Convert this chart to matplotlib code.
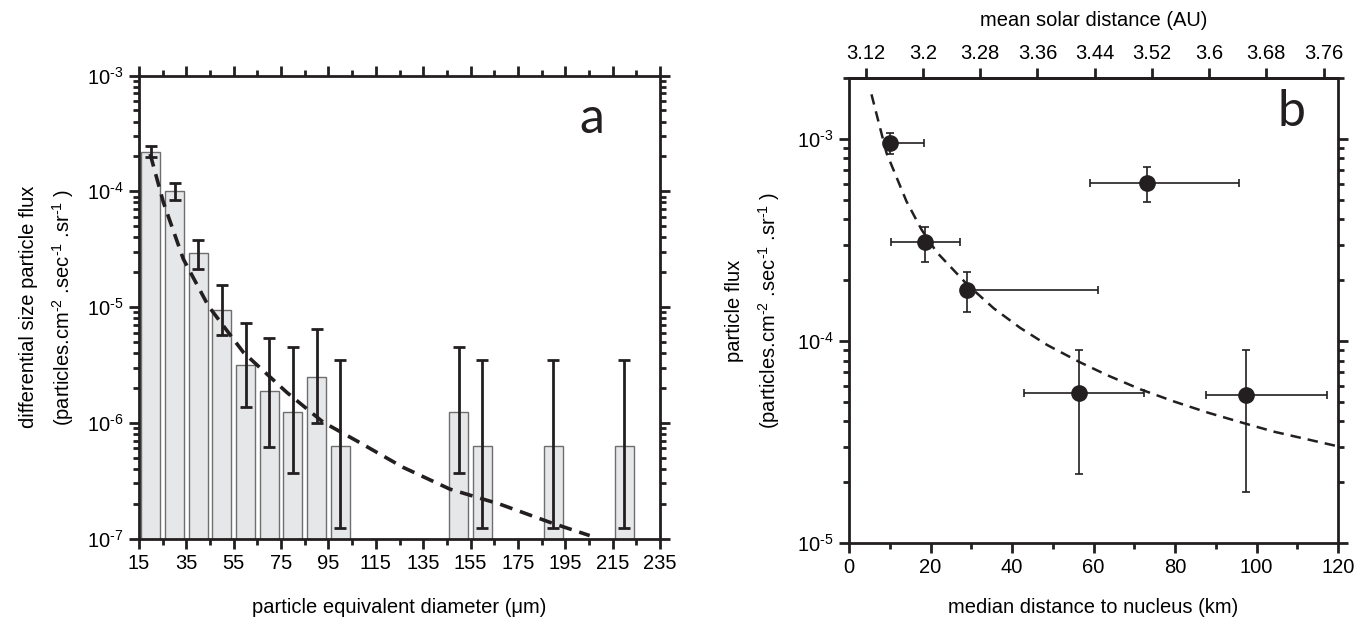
import numpy as np
import matplotlib
matplotlib.use('Agg')
import matplotlib.pyplot as plt
from matplotlib.ticker import FixedLocator, LogLocator, NullFormatter, FuncFormatter

plt.rcParams['font.family'] = ['Liberation Sans', 'DejaVu Sans']
plt.rcParams['mathtext.fontset'] = 'custom'
plt.rcParams['mathtext.rm'] = 'Liberation Sans'
plt.rcParams['mathtext.it'] = 'Liberation Sans:italic'
plt.rcParams['mathtext.default'] = 'regular'

# panel a: size distribution (bars with error bars)
diam = [20, 30, 40, 50, 60, 70, 80, 90, 100, 150, 160, 190, 220]
flux_a = [2.19e-4, 9.97e-5, 2.9e-5, 9.4e-6, 3.13e-6, 1.87e-6, 1.25e-6, 2.5e-6, 6.23e-7,
          1.25e-6, 6.23e-7, 6.23e-7, 6.23e-7]
flux_a_hi = [2.44e-4, 1.17e-4, 3.78e-5, 1.55e-5, 7.3e-6, 5.45e-6, 4.5e-6, 6.4e-6, 3.46e-6,
             4.5e-6, 3.46e-6, 3.46e-6, 3.46e-6]
flux_a_lo = [1.96e-4, 8.45e-5, 2.13e-5, 5.69e-6, 1.37e-6, 6.23e-7, 3.71e-7, 1.0e-6, 1.24e-7,
             3.71e-7, 1.24e-7, 1.24e-7, 1.24e-7]
# dashed model curve in panel a
curve_a_x = [19.7, 25.3, 33.7, 44.3, 59.1, 77.4, 92.8, 106.9, 126.6, 146.3, 167.4, 188.5, 205.3]
curve_a_y = [2.1e-4, 8.0e-5, 2.6e-5, 1.02e-5, 4.05e-6, 1.83e-6, 1.01e-6, 6.98e-7, 4.11e-7,
             2.67e-7, 1.98e-7, 1.38e-7, 1.06e-7]

# panel b: flux vs distance to nucleus
dist_km = [10.0, 18.6, 28.9, 56.5, 73.0, 97.4]
flux_b = [9.49e-4, 3.07e-4, 1.79e-4, 5.55e-5, 6.08e-4, 5.41e-5]
flux_b_hi = [1.07e-3, 3.66e-4, 2.2e-4, 9.0e-5, 7.26e-4, 9.06e-5]
flux_b_lo = [8.4e-4, 2.46e-4, 1.39e-4, 2.2e-5, 4.88e-4, 1.79e-5]
dist_lo = [9.0, 10.2, 28.0, 42.9, 59.1, 87.5]
dist_hi = [18.5, 27.3, 61.0, 72.3, 95.6, 117.2]
curve_b_x = [5.5, 9.2, 14.1, 17.8, 21.5, 28.9, 35.5, 42.0, 48.6, 56.5, 63.4, 71.6,
             79.8, 88.0, 97.4, 104.4, 119.6]
curve_b_y = [1.66e-3, 8.5e-4, 4.9e-4, 3.55e-4, 2.75e-4, 1.91e-4, 1.45e-4, 1.16e-4, 9.55e-5,
             7.87e-5, 6.76e-5, 5.75e-5, 5.01e-5, 4.42e-5, 3.89e-5, 3.55e-5, 3.02e-5]

# top axis of panel b: mean solar distance
au_ticks = [3.12, 3.20, 3.28, 3.36, 3.44, 3.52, 3.60, 3.68, 3.76]
au_labels = ['3.12', '3.2', '3.28', '3.36', '3.44', '3.52', '3.6', '3.68', '3.76']
au_at_0km = 3.0966
au_per_km = 0.005697

ink = '#231f20'
fs_tick = 14.5
fs_label = 14.5
unit_text = '(particles.cm$^{\\text{-}2}$ .sec$^{\\text{-}1}$ .sr$^{\\text{-}1}$ )'

fig = plt.figure(figsize=(13.71, 6.24), dpi=100)
ax_a = fig.add_axes([0.1014, 0.1370, 0.3800, 0.7420])
ax_b = fig.add_axes([0.6193, 0.1298, 0.3567, 0.7452])


def pow_label(v, pos):
    e = int(round(np.log10(v)))
    return '10$^{\\text{-}%d}$' % abs(e)


def style_axis(ax):
    for s in ax.spines.values():
        s.set_linewidth(2)
        s.set_color(ink)
    ax.tick_params(which='both', direction='out', top=True, right=True, width=2,
                   color=ink, labelsize=fs_tick, pad=4)
    ax.tick_params(which='major', length=7)
    ax.tick_params(which='minor', length=4)
    ax.yaxis.set_major_formatter(FuncFormatter(pow_label))
    ax.yaxis.set_minor_formatter(NullFormatter())


# ---- panel a ----
d = np.array(diam, dtype=float)
fa = np.array(flux_a)
yerr_a = [fa - np.array(flux_a_lo), np.array(flux_a_hi) - fa]
ax_a.set_yscale('log')
ax_a.bar(d, fa, width=8, bottom=1e-9, color='#e6e7e8', edgecolor='#6e6e6e', linewidth=1, zorder=2)
ax_a.errorbar(d, fa, yerr=yerr_a, fmt='none', ecolor=ink, elinewidth=2, capsize=4, capthick=2, zorder=3)
ax_a.plot(curve_a_x, curve_a_y, color=ink, lw=2.6, dashes=(3.6, 2.2), zorder=4)
ax_a.set_xlim(15, 235)
ax_a.set_ylim(1e-7, 1e-3)
ax_a.xaxis.set_major_locator(FixedLocator(np.arange(15, 236, 20)))
ax_a.xaxis.set_minor_locator(FixedLocator(np.arange(25, 236, 20)))
ax_a.yaxis.set_major_locator(LogLocator(base=10, numticks=10))
ax_a.yaxis.set_minor_locator(LogLocator(base=10, subs=np.arange(2, 10), numticks=20))
style_axis(ax_a)
ax_a.set_xlabel('particle equivalent diameter (\u03bcm)', fontsize=fs_label, labelpad=18)
ax_a.set_ylabel('differential size particle flux\n' + unit_text,
                fontsize=fs_label, labelpad=8, linespacing=1.6)
ax_a.text(0.87, 0.905, 'a', transform=ax_a.transAxes, fontsize=36, family=['Lato', 'DejaVu Sans'],
          ha='center', va='center', color=ink)

# ---- panel b ----
fb = np.array(flux_b)
km = np.array(dist_km)
yerr_b = [fb - np.array(flux_b_lo), np.array(flux_b_hi) - fb]
xerr_b = [km - np.array(dist_lo), np.array(dist_hi) - km]
ax_b.set_yscale('log')
ax_b.plot(curve_b_x, curve_b_y, color=ink, lw=1.8, dashes=(4.2, 2.8), zorder=2)
ax_b.errorbar(km, fb, yerr=yerr_b, xerr=xerr_b, fmt='o', color=ink, ms=11, ecolor=ink,
              elinewidth=1.2, capsize=3, capthick=1.2, zorder=3)
ax_b.set_xlim(0, 120)
ax_b.set_ylim(1e-5, 2.0e-3)
ax_b.xaxis.set_major_locator(FixedLocator(np.arange(0, 121, 20)))
ax_b.xaxis.set_minor_locator(FixedLocator(np.arange(10, 121, 20)))
ax_b.yaxis.set_major_locator(LogLocator(base=10, numticks=10))
ax_b.yaxis.set_minor_locator(LogLocator(base=10, subs=np.arange(2, 10), numticks=20))
style_axis(ax_b)
ax_b.tick_params(axis='x', which='both', top=False)
ax_b.set_xlabel('median distance to nucleus (km)', fontsize=fs_label, labelpad=15)
ax_b.set_ylabel('particle flux\n' + unit_text, fontsize=fs_label, labelpad=11, linespacing=1.6)
ax_b.text(0.905, 0.927, 'b', transform=ax_b.transAxes, fontsize=36, family=['Lato', 'DejaVu Sans'],
          ha='center', va='center', color=ink)

sec = ax_b.secondary_xaxis('top', functions=(lambda k: au_at_0km + au_per_km * k,
                                             lambda a: (a - au_at_0km) / au_per_km))
sec.set_xticks(au_ticks)
sec.set_xticklabels(au_labels)
sec.tick_params(direction='out', length=7, width=2, color=ink, labelsize=fs_tick, pad=4)
sec.spines['top'].set_linewidth(2)
sec.set_xlabel('mean solar distance (AU)', fontsize=fs_label, labelpad=13)

fig.savefig('out.png', dpi=100)
